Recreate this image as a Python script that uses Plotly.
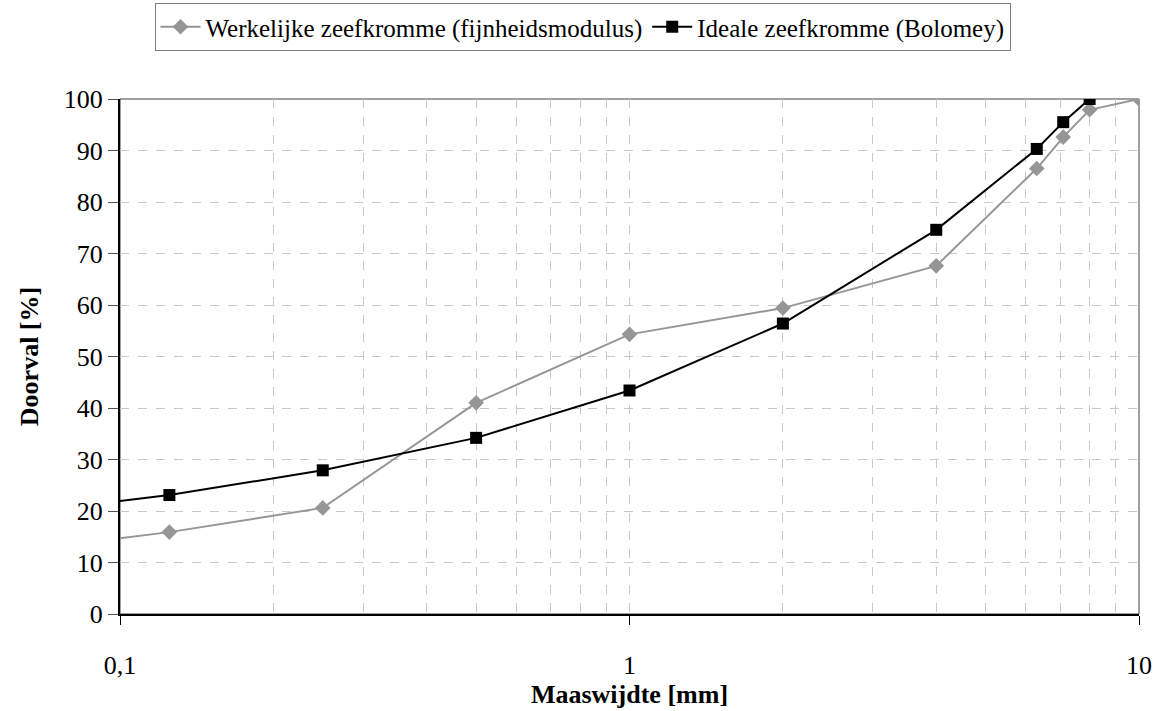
import plotly.graph_objects as go

# Sieve sizes [mm] and passing percentages
maaswijdte = [0.063, 0.125, 0.25, 0.5, 1, 2, 4, 6.3, 7.1, 8, 10]
werkelijk = [12.3, 15.9, 20.6, 41.0, 54.3, 59.4, 67.6, 86.5, 92.6, 97.9, 100]

maaswijdte_bolomey = [0.063, 0.125, 0.25, 0.5, 1, 2, 4, 6.3, 7.1, 8]
bolomey = [19.6, 23.1, 27.9, 34.2, 43.4, 56.4, 74.6, 90.3, 95.5, 100]

x_tickvals = [0.1, 1, 10]
x_ticktext = ["0,1", "1", "10"]

FONT = "Liberation Serif"

fig = go.Figure()

fig.add_trace(go.Scatter(
    x=maaswijdte, y=werkelijk, mode="lines+markers",
    name="Werkelijke zeefkromme (fijnheidsmodulus)",
    line=dict(color="#969696", width=2),
    marker=dict(symbol="diamond", size=12, color="#969696",
                line=dict(width=0)),
))

fig.add_trace(go.Scatter(
    x=maaswijdte_bolomey, y=bolomey, mode="lines+markers",
    name="Ideale zeefkromme (Bolomey)",
    line=dict(color="#000000", width=2),
    marker=dict(symbol="square", size=12, color="#000000",
                line=dict(width=0)),
))

# thin frame on top and right
fig.add_shape(type="rect", xref="paper", yref="paper", x0=0, y0=0, x1=1, y1=1,
              line=dict(color="#404040", width=1), layer="below")

fig.update_layout(
    width=1165, height=711,
    margin=dict(l=120, r=26, t=99, b=97),
    paper_bgcolor="white", plot_bgcolor="white",
    font=dict(family=FONT, size=26, color="black"),
    showlegend=True,
    legend=dict(
        orientation="h", xref="container", yref="container",
        x=0.5, xanchor="center", y=1 - 3 / 711, yanchor="top",
        bordercolor="#808080", borderwidth=1,
        font=dict(family=FONT, size=25, color="black"),
        itemwidth=40, tracegroupgap=0,
    ),
)

fig.update_xaxes(
    type="log", range=[-1, 1], automargin=False,
    tickvals=x_tickvals, ticktext=x_ticktext,
    showgrid=False, zeroline=False,
    showline=True, linecolor="black", linewidth=2,
    ticks="outside", ticklen=9, tickcolor="black", tickwidth=1,
    ticklabelstandoff=18,
    minor=dict(dtick="D1", showgrid=True, griddash="dash",
               gridcolor="#c8c8c8", gridwidth=1, ticks=""),
    title=dict(text="<b>Maaswijdte [mm]</b>", font=dict(size=26), standoff=0),
)

fig.update_yaxes(
    range=[0, 100], dtick=10, automargin=False,
    showgrid=True, griddash="dash", gridcolor="#c8c8c8", gridwidth=1,
    zeroline=False,
    showline=True, linecolor="black", linewidth=2,
    ticks="outside", ticklen=10, tickcolor="#505050", tickwidth=1,
    title=dict(text="<b>Doorval [%]</b>", font=dict(size=26), standoff=18),
)

fig.write_html("out.html")
